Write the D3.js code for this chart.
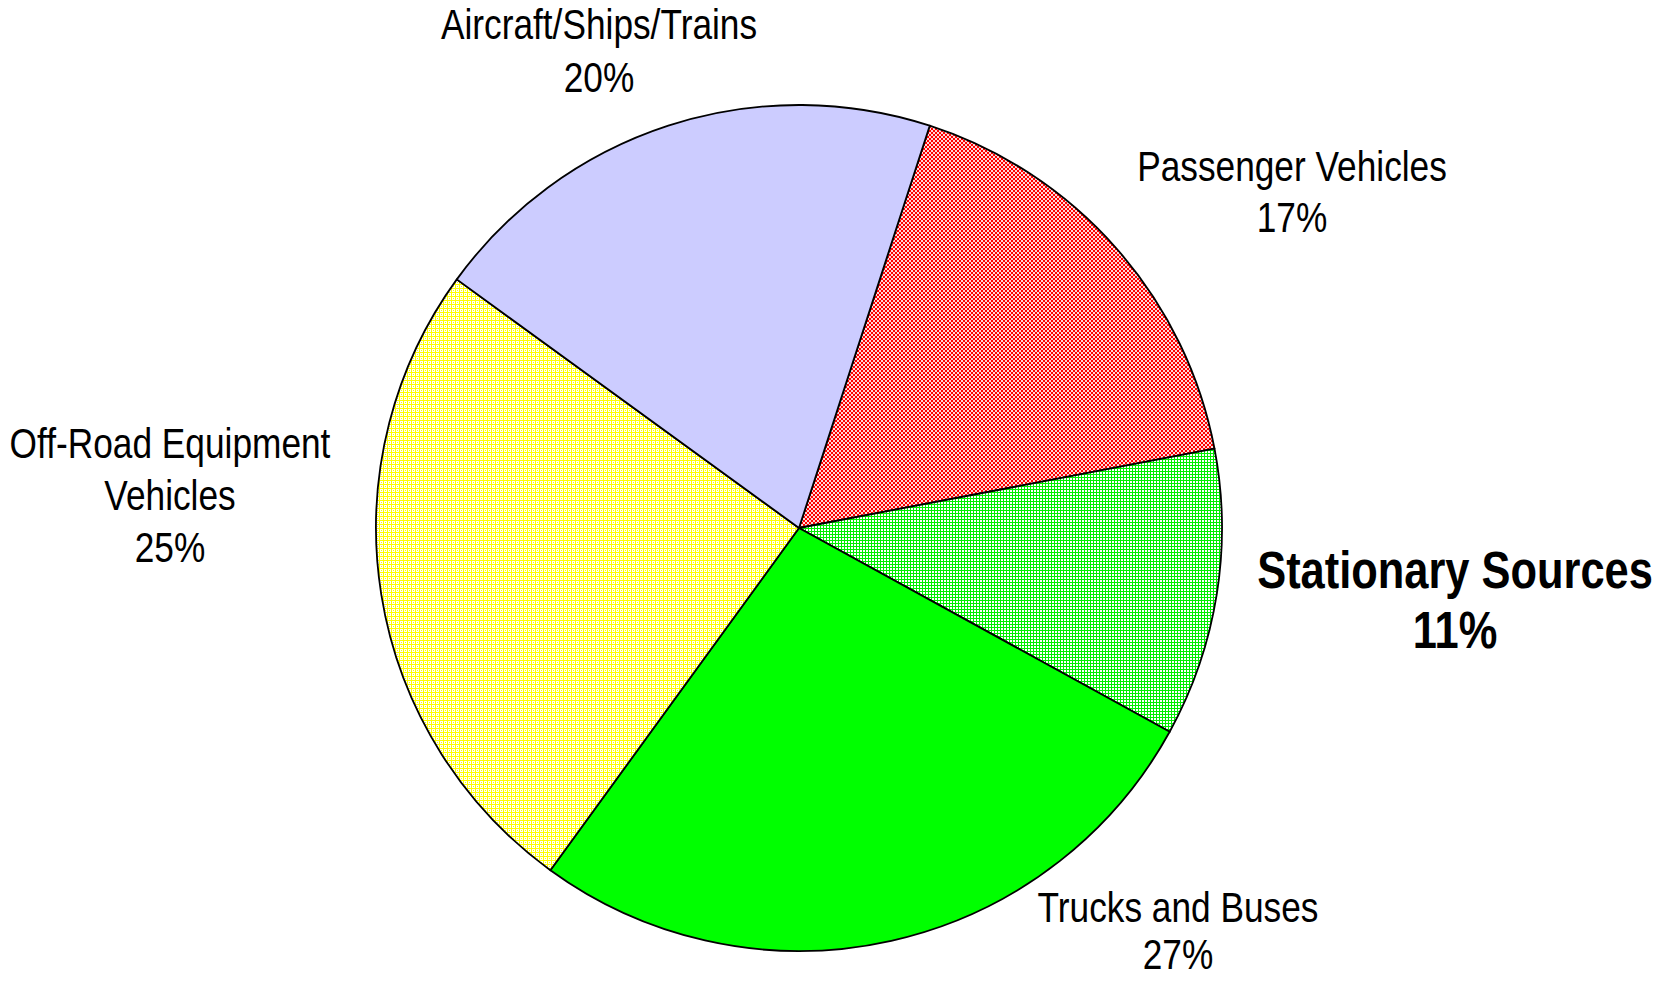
<!DOCTYPE html>
<html>
<head>
<meta charset="utf-8">
<script src="https://cdn.jsdelivr.net/npm/d3@7"></script>
<style>
  html, body { margin: 0; padding: 0; background: #fff; }
  svg { display: block; }
  .lbl { font-family: "Liberation Sans", Arial, sans-serif; fill: #000; }
</style>
</head>
<body>
<div id="chart"></div>
<script>
// slice data, clockwise from the top
const categories = ['Passenger Vehicles', 'Stationary Sources', 'Trucks and Buses', 'Off-Road Equipment Vehicles', 'Aircraft/Ships/Trains'];
const shares = [17, 11, 27, 25, 20];
const labelLines = [
    ['Passenger Vehicles', '17%'],
    ['Stationary Sources', '11%'],
    ['Trucks and Buses', '27%'],
    ['Off-Road Equipment', 'Vehicles', '25%'],
    ['Aircraft/Ships/Trains', '20%']
];

const width = 1671, height = 981;
const cx = 799, cy = 528, radius = 423;
const startDeg = 18;

// fills for each slice (patterns are defined below)
const fills = ['url(#pRed)', 'url(#pGreen)', '#00ff00', 'url(#pYellow)', '#ccccff'];

// label anchor (x of centre, baseline of first line) and styling
// no narrow font installed, so the text is squeezed horizontally
const labelAt = [
    { x: 1292, y: 181, size: 42, bold: false, lh: 51, sx: 0.84 },
    { x: 1455, y: 588, size: 52, bold: true, lh: 60, sx: 0.835 },
    { x: 1178, y: 922, size: 42, bold: false, lh: 47, sx: 0.84 },
    { x: 170, y: 458, size: 42, bold: false, lh: 52, sx: 0.84 },
    { x: 599, y: 39, size: 42, bold: false, lh: 53, sx: 0.84 }
];

const svg = d3.select('#chart')
    .append('svg')
    .attr('width', width)
    .attr('height', height);

const defs = svg.append('defs');

// red checkerboard
const red = defs.append('pattern').attr('id', 'pRed')
    .attr('patternUnits', 'userSpaceOnUse').attr('width', 4).attr('height', 4);
red.append('rect').attr('width', 4).attr('height', 4).attr('fill', '#ffd6d6');
red.append('rect').attr('width', 2).attr('height', 2).attr('fill', '#ff0000');
red.append('rect').attr('x', 2).attr('y', 2).attr('width', 2).attr('height', 2).attr('fill', '#ff0000');

// green mesh
const green = defs.append('pattern').attr('id', 'pGreen')
    .attr('patternUnits', 'userSpaceOnUse').attr('width', 3).attr('height', 3);
green.append('rect').attr('width', 3).attr('height', 3).attr('fill', '#ffffff');
green.append('rect').attr('width', 3).attr('height', 1).attr('fill', '#00ee00');
green.append('rect').attr('width', 1).attr('height', 3).attr('fill', '#00ee00');

// yellow mesh
const yellow = defs.append('pattern').attr('id', 'pYellow')
    .attr('patternUnits', 'userSpaceOnUse').attr('width', 4).attr('height', 4);
yellow.append('rect').attr('width', 4).attr('height', 4).attr('fill', '#ffffff');
yellow.append('rect').attr('width', 4).attr('height', 1).attr('fill', '#ffff00');
yellow.append('rect').attr('width', 1).attr('height', 4).attr('fill', '#ffff00');
yellow.append('rect').attr('x', 2).attr('y', 2).attr('width', 1).attr('height', 1).attr('fill', '#ffff00');

const pie = d3.pie()
    .sort(null)
    .value(d => d)
    .startAngle(startDeg * Math.PI / 180)
    .endAngle(startDeg * Math.PI / 180 + 2 * Math.PI);

const arc = d3.arc().innerRadius(0).outerRadius(radius);

const g = svg.append('g').attr('transform', `translate(${cx}, ${cy})`);

g.selectAll('path')
    .data(pie(shares))
    .enter().append('path')
    .attr('d', arc)
    .attr('fill', (d, i) => fills[i])
    .attr('stroke', '#000')
    .attr('stroke-width', 1.8)
    .attr('stroke-linejoin', 'round');

// labels
categories.forEach((c, i) => {
    const pos = labelAt[i];
    const t = svg.append('g')
        .attr('transform', `translate(${pos.x}, 0) scale(${pos.sx}, 1)`)
        .append('text')
        .attr('class', 'lbl')
        .attr('text-anchor', 'middle')
        .style('font-size', pos.size + 'px')
        .style('font-weight', pos.bold ? 'bold' : 'normal');
    labelLines[i].forEach((line, j) => {
        t.append('tspan')
            .attr('x', 0)
            .attr('y', pos.y + j * pos.lh)
            .text(line);
    });
});
</script>
</body>
</html>
